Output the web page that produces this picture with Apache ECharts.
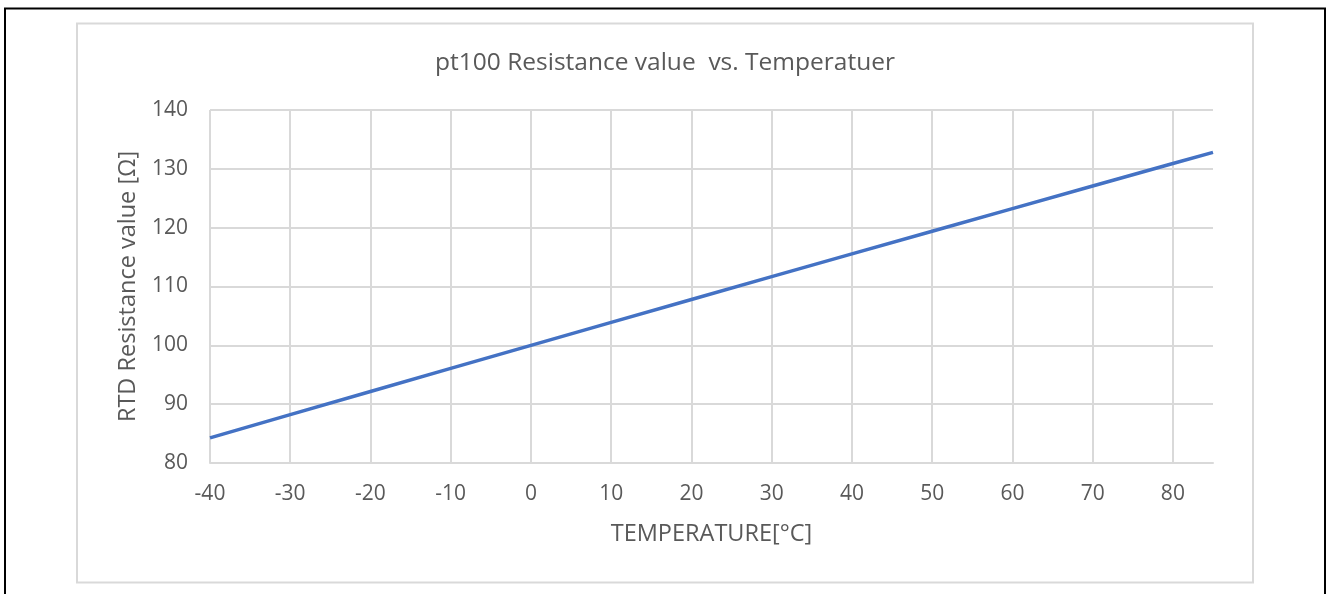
<!DOCTYPE html>
<html>
<head>
<meta charset="utf-8">
<script src="https://cdn.jsdelivr.net/npm/echarts@6/dist/echarts.min.js"></script>
<style>
  html, body { margin: 0; padding: 0; background: #fff; }
  #chart { width: 1326px; height: 594px; }
</style>
</head>
<body>
<div id="chart"></div>
<script>
// pt100 values
const temperatures = [-40, -30, -20, -10, 0, 10, 20, 30, 40, 50, 60, 70, 80, 85]
const resistances = [84.27, 88.22, 92.16, 96.09, 100, 103.9, 107.79, 111.67, 115.54, 119.4, 123.24, 127.08, 130.9, 132.8]

const titleText = 'pt100 Resistance value  vs. Temperatuer'
const xName = 'TEMPERATURE[°C]'
const yName = 'RTD Resistance value [Ω]'

const font = '"Open Sans", sans-serif'
const textColor = '#595959'
const gridColor = '#d9d9d9'

const chart = echarts.init(document.getElementById('chart'))
chart.setOption({
  animation: false,
  backgroundColor: '#fff',
  graphic: [
    {
      type: 'rect',
      shape: { x: 5, y: 8.5, width: 1320, height: 620 },
      style: { fill: 'none', stroke: '#000', lineWidth: 2 },
      silent: true
    },
    {
      type: 'rect',
      shape: { x: 77, y: 23.5, width: 1176, height: 559 },
      style: { fill: 'none', stroke: gridColor, lineWidth: 2 },
      silent: true
    }
  ],
  title: {
    text: titleText,
    left: 660,
    textAlign: 'center',
    top: 46,
    textStyle: {
      fontFamily: font,
      fontSize: 24.5,
      fontWeight: 'normal',
      color: textColor
    }
  },
  grid: {
    left: 210,
    right: 113,
    top: 110,
    bottom: 131
  },
  xAxis: {
    type: 'value',
    min: -40,
    max: 85,
    interval: 10,
    name: xName,
    nameLocation: 'middle',
    nameGap: 59,
    nameTextStyle: { fontFamily: font, fontSize: 23.5, color: textColor },
    axisLine: { show: true, lineStyle: { color: gridColor, width: 2 } },
    axisTick: { show: false },
    axisLabel: {
      margin: 21,
      showMaxLabel: false,
      fontFamily: font,
      fontSize: 21,
      color: textColor
    },
    splitLine: {
      show: true,
      showMaxLine: false,
      lineStyle: { color: gridColor, width: 2 }
    }
  },
  yAxis: {
    type: 'value',
    min: 80,
    max: 140,
    interval: 10,
    name: yName,
    nameLocation: 'middle',
    nameGap: 70,
    nameTextStyle: { fontFamily: font, fontSize: 23.5, color: textColor },
    axisLine: { show: false },
    axisTick: { show: false },
    axisLabel: {
      margin: 22,
      fontFamily: font,
      fontSize: 21,
      color: textColor
    },
    splitLine: { show: true, lineStyle: { color: gridColor, width: 2 } }
  },
  series: [
    {
      type: 'line',
      data: temperatures.map((t, i) => [t, resistances[i]]),
      showSymbol: false,
      lineStyle: { color: '#4472c4', width: 3.5 },
      itemStyle: { color: '#4472c4' }
    }
  ]
})
</script>
</body>
</html>
